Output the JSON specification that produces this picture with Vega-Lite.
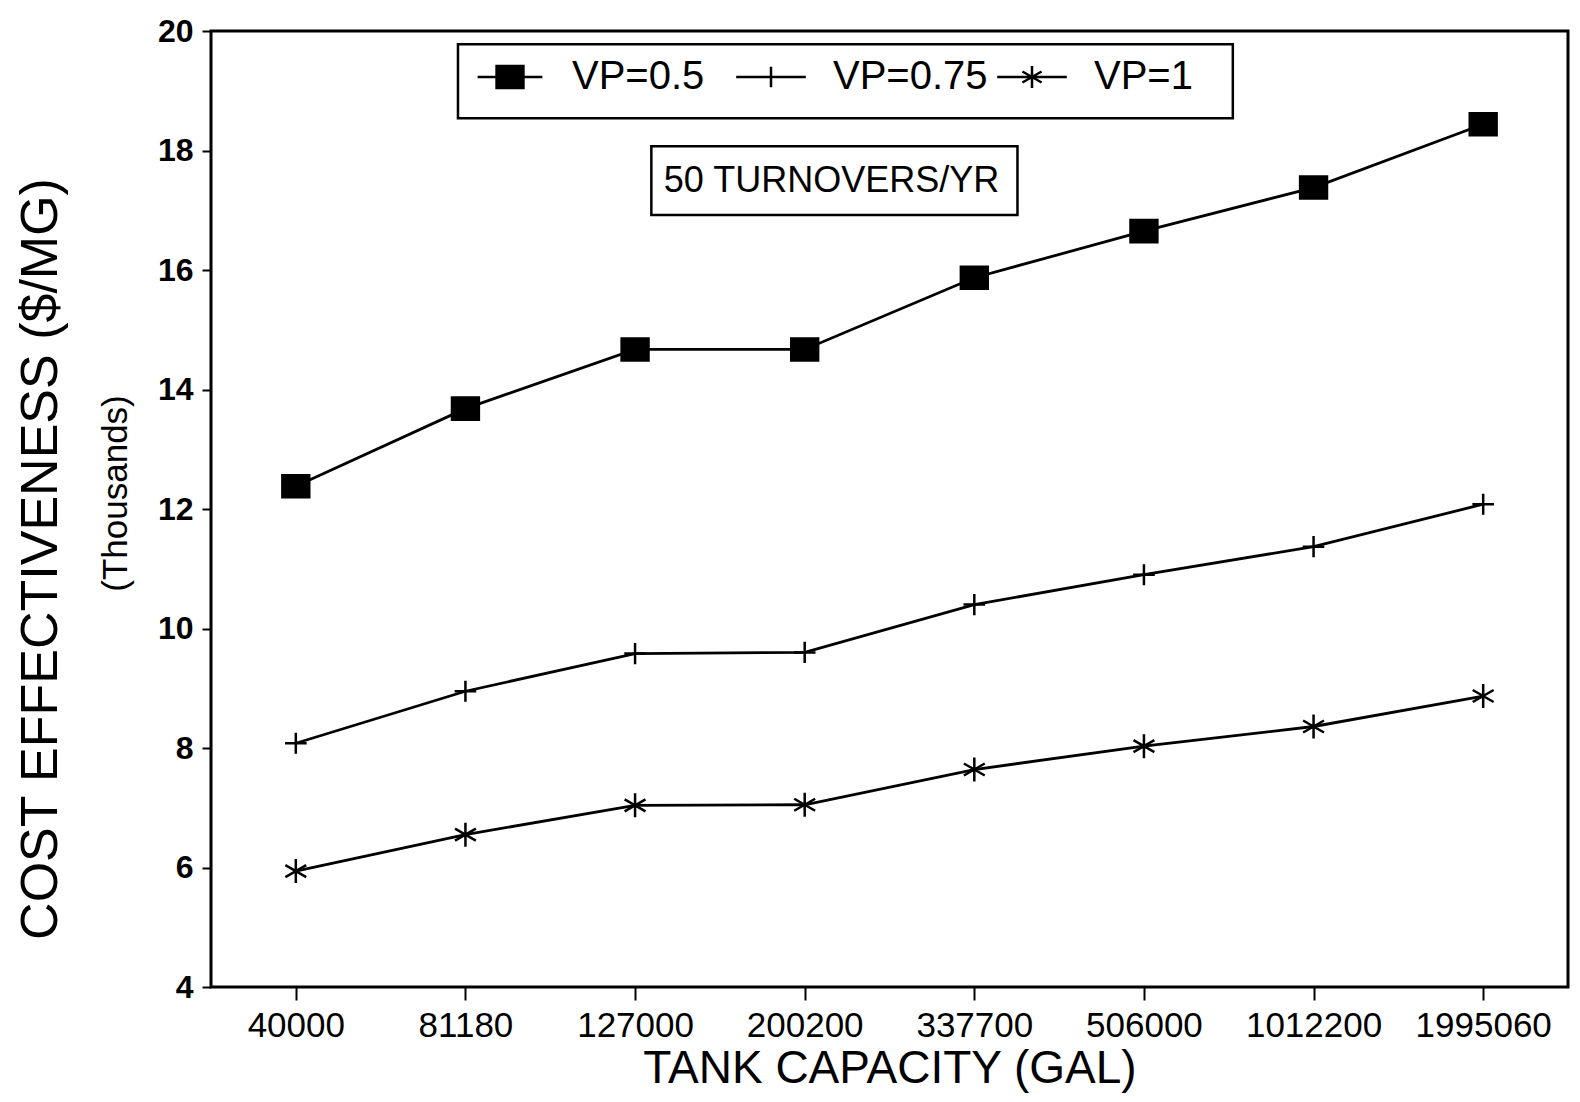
{
  "$schema": "https://vega.github.io/schema/vega-lite/v6.json",
  "width": 1357,
  "height": 956,
  "autosize": {"type": "none"},
  "padding": {"left": 211, "top": 31, "right": 12, "bottom": 115},
  "background": "white",
  "config": {
    "font": "Liberation Sans",
    "view": {"stroke": "black", "strokeWidth": 3}
  },
  "title": {
    "text": "COST EFFECTIVENESS ($/MG)",
    "orient": "left",
    "anchor": "middle",
    "frame": "group",
    "fontSize": 52,
    "fontWeight": "normal",
    "font": "Liberation Sans",
    "color": "black",
    "offset": 30,
    "dx": -50
  },
  "resolve": {"scale": {"x": "independent"}},
  "layer": [
    {
      "data": {"values": [{"note": "50 TURNOVERS/YR"}]},
      "layer": [
        {
          "mark": {"type": "rect", "filled": false, "stroke": "black", "strokeWidth": 2.5},
          "encoding": {
            "x": {"datum": 0.182, "type": "quantitative", "scale": {"domain": [0, 1]}, "axis": null},
            "x2": {"datum": 0.753},
            "y": {"datum": 19.78, "type": "quantitative"},
            "y2": {"datum": 18.54}
          }
        },
        {
          "mark": {"type": "rect", "filled": false, "stroke": "black", "strokeWidth": 2.5},
          "encoding": {
            "x": {"datum": 0.3245, "type": "quantitative", "scale": {"domain": [0, 1]}, "axis": null},
            "x2": {"datum": 0.5943},
            "y": {"datum": 18.07, "type": "quantitative"},
            "y2": {"datum": 16.92}
          }
        },
        {
          "mark": {"type": "text", "fontSize": 36, "font": "Liberation Sans", "color": "black", "align": "center", "baseline": "middle"},
          "encoding": {
            "text": {"field": "note", "type": "nominal"},
            "x": {"datum": 0.4573, "type": "quantitative", "scale": {"domain": [0, 1]}, "axis": null},
            "y": {"datum": 17.49, "type": "quantitative"}
          }
        }
      ]
    },
    {
      "data": {
        "values": [
          {"capacity": "40000", "series": "VP=0.5", "cost": 12.38},
          {"capacity": "81180", "series": "VP=0.5", "cost": 13.68},
          {"capacity": "127000", "series": "VP=0.5", "cost": 14.67},
          {"capacity": "200200", "series": "VP=0.5", "cost": 14.67},
          {"capacity": "337700", "series": "VP=0.5", "cost": 15.87},
          {"capacity": "506000", "series": "VP=0.5", "cost": 16.65},
          {"capacity": "1012200", "series": "VP=0.5", "cost": 17.38},
          {"capacity": "1995060", "series": "VP=0.5", "cost": 18.44},
          {"capacity": "40000", "series": "VP=0.75", "cost": 8.08},
          {"capacity": "81180", "series": "VP=0.75", "cost": 8.95},
          {"capacity": "127000", "series": "VP=0.75", "cost": 9.58},
          {"capacity": "200200", "series": "VP=0.75", "cost": 9.6},
          {"capacity": "337700", "series": "VP=0.75", "cost": 10.4},
          {"capacity": "506000", "series": "VP=0.75", "cost": 10.9},
          {"capacity": "1012200", "series": "VP=0.75", "cost": 11.37},
          {"capacity": "1995060", "series": "VP=0.75", "cost": 12.08},
          {"capacity": "40000", "series": "VP=1", "cost": 5.94},
          {"capacity": "81180", "series": "VP=1", "cost": 6.55},
          {"capacity": "127000", "series": "VP=1", "cost": 7.04},
          {"capacity": "200200", "series": "VP=1", "cost": 7.05},
          {"capacity": "337700", "series": "VP=1", "cost": 7.64},
          {"capacity": "506000", "series": "VP=1", "cost": 8.03},
          {"capacity": "1012200", "series": "VP=1", "cost": 8.36},
          {"capacity": "1995060", "series": "VP=1", "cost": 8.87}
        ]
      },
      "encoding": {
        "x": {
          "field": "capacity",
          "type": "ordinal",
          "sort": null,
          "scale": {"type": "point", "padding": 0.5},
          "axis": {
            "title": "TANK CAPACITY (GAL)",
            "titleFontSize": 46,
            "titleFontWeight": "normal",
            "titleColor": "black",
            "titlePadding": 3,
            "labelFontSize": 35,
            "labelColor": "black",
            "labelAngle": 0,
            "labelPadding": 8,
            "tickSize": 13,
            "tickWidth": 2,
            "tickColor": "black",
            "domain": false,
            "grid": false
          }
        },
        "y": {
          "field": "cost",
          "type": "quantitative",
          "scale": {"domain": [4, 20], "nice": false, "zero": false},
          "axis": {
            "title": "(Thousands)",
            "values": [4, 6, 8, 10, 12, 14, 16, 18, 20],
            "format": "d",
            "labelFontSize": 32,
            "labelFontWeight": "bold",
            "labelColor": "black",
            "labelPadding": 9,
            "tickSize": 9,
            "tickWidth": 2,
            "tickColor": "black",
            "domain": false,
            "grid": false,
            "titleFontSize": 35,
            "titleFontWeight": "normal",
            "titleColor": "black",
            "titleAngle": 270,
            "titleAlign": "center",
            "titleBaseline": "alphabetic",
            "titleX": -85,
            "titleY": 462
          }
        }
      },
      "layer": [
        {
          "mark": {"type": "line", "strokeWidth": 2.8},
          "encoding": {
            "color": {
              "field": "series",
              "type": "nominal",
              "scale": {"range": ["black", "black", "black"]},
              "legend": {
                "orient": "none",
                "legendX": 255,
                "legendY": 26,
                "direction": "horizontal",
                "title": null,
                "labelFontSize": 40,
                "labelFont": "Liberation Sans",
                "labelColor": "black",
                "symbolSize": 576,
                "symbolStrokeWidth": 2.5,
                "symbolOffset": 24,
                "labelOffset": 42,
                "columnPadding": -4,
                "gridAlign": "all",
                "padding": 0,
                "encode": {
                  "symbols": {
                    "update": {
                      "fill": {"value": "black"},
                      "strokeWidth": {"value": 2.5},
                      "opacity": {"value": 1},
                      "shape": {"signal": "datum.value === 'VP=0.5' ? 'M-2.7,0H2.7M-1.12,-0.92H1.12V0.92H-1.12Z' : datum.value === 'VP=0.75' ? 'M-2.9,0H2.9M0,-0.85V0.85' : 'M-2.9,0H2.9M0,-0.92V0.92M-0.8,-0.46L0.8,0.46M-0.8,0.46L0.8,-0.46'"}
                    }
                  }
                }
              }
            }
          }
        },
        {
          "mark": {"type": "point", "filled": true, "color": "black", "stroke": "black", "strokeWidth": 2.5, "opacity": 1, "size": 576},
          "encoding": {
            "shape": {
              "field": "series",
              "type": "nominal",
              "scale": {
                "domain": ["VP=0.5", "VP=0.75", "VP=1"],
                "range": [
                  "M-1.12,-0.92H1.12V0.92H-1.12Z",
                  "M-0.9,0H0.9M0,-0.88V0.88",
                  "M0,-1V1M-0.87,-0.5L0.87,0.5M-0.87,0.5L0.87,-0.5"
                ]
              },
              "legend": null
            }
          }
        }
      ]
    }
  ]
}
